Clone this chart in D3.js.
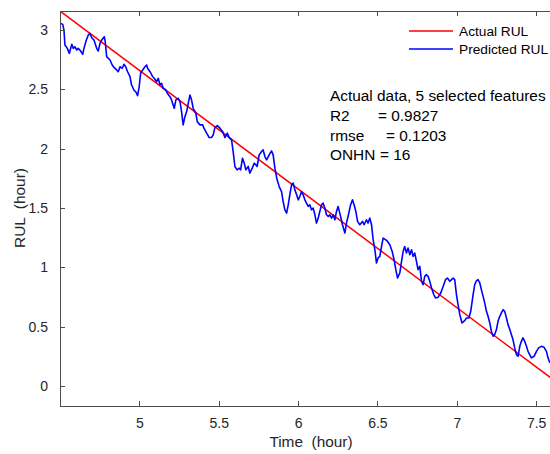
<!DOCTYPE html>
<html>
<head>
<meta charset="utf-8">
<script src="https://cdn.jsdelivr.net/npm/d3@7"></script>
<style>
  body { margin: 0; background: #fff; }
  svg { font-family: "Liberation Sans", Arial, sans-serif; }
  .axis path, .axis line { stroke: #4d4d4d; shape-rendering: crispEdges; }
  .axis text { fill: #262626; font-size: 14px; }
</style>
</head>
<body>
<script>
// Actual RUL (straight line)
var actualTime = [4.5, 7.6];
var actualRUL = [3.16, 0.06];

// Predicted RUL
var predTime = [4.506, 4.517, 4.525, 4.531, 4.546, 4.559, 4.574, 4.584, 4.594, 4.605,
4.615, 4.630, 4.643, 4.651, 4.664, 4.678, 4.689, 4.700, 4.714, 4.731,
4.741, 4.752, 4.763, 4.779, 4.785, 4.794, 4.815, 4.829, 4.842, 4.857,
4.867, 4.878, 4.892, 4.903, 4.914, 4.926, 4.941, 4.951, 4.966, 4.979,
4.989, 4.999, 5.008, 5.021, 5.035, 5.046, 5.052, 5.067, 5.084, 5.094,
5.109, 5.119, 5.130, 5.140, 5.150, 5.167, 5.176, 5.193, 5.203, 5.213,
5.220, 5.230, 5.245, 5.256, 5.266, 5.276, 5.287, 5.298, 5.308, 5.319,
5.329, 5.339, 5.356, 5.365, 5.382, 5.399, 5.407, 5.424, 5.440, 5.455,
5.465, 5.476, 5.491, 5.508, 5.525, 5.539, 5.554, 5.566, 5.581, 5.591,
5.602, 5.616, 5.629, 5.638, 5.650, 5.661, 5.671, 5.686, 5.696, 5.711,
5.724, 5.734, 5.742, 5.755, 5.770, 5.780, 5.791, 5.802, 5.818, 5.833,
5.843, 5.854, 5.868, 5.881, 5.896, 5.906, 5.917, 5.928, 5.938, 5.948,
5.959, 5.969, 5.980, 5.991, 6.001, 6.011, 6.022, 6.032, 6.043, 6.053,
6.064, 6.074, 6.085, 6.095, 6.106, 6.116, 6.127, 6.137, 6.148, 6.158,
6.169, 6.179, 6.190, 6.200, 6.211, 6.221, 6.232, 6.242, 6.252, 6.263,
6.280, 6.295, 6.305, 6.315, 6.331, 6.343, 6.353, 6.364, 6.375, 6.389,
6.406, 6.416, 6.431, 6.441, 6.452, 6.463, 6.473, 6.484, 6.494, 6.504,
6.515, 6.526, 6.536, 6.551, 6.564, 6.578, 6.593, 6.605, 6.616, 6.627,
6.641, 6.652, 6.662, 6.672, 6.683, 6.693, 6.704, 6.715, 6.725, 6.735,
6.746, 6.756, 6.767, 6.778, 6.788, 6.798, 6.809, 6.819, 6.830, 6.841,
6.855, 6.866, 6.882, 6.899, 6.914, 6.929, 6.941, 6.956, 6.967, 6.977,
6.987, 6.998, 7.008, 7.019, 7.033, 7.050, 7.061, 7.076, 7.088, 7.103,
7.113, 7.124, 7.134, 7.145, 7.155, 7.166, 7.176, 7.187, 7.197, 7.208,
7.218, 7.229, 7.239, 7.250, 7.260, 7.271, 7.281, 7.292, 7.302, 7.313,
7.323, 7.334, 7.344, 7.354, 7.365, 7.376, 7.386, 7.397, 7.407, 7.417,
7.428, 7.439, 7.449, 7.470, 7.487, 7.502, 7.516, 7.533, 7.550, 7.565,
7.575, 7.586];

var predRUL = [3.056, 3.047, 2.999, 2.873, 2.845, 2.803, 2.879, 2.845, 2.859, 2.831,
2.845, 2.823, 2.795, 2.845, 2.907, 2.957, 2.972, 2.935, 2.915, 2.845,
2.823, 2.887, 2.915, 2.943, 2.901, 2.775, 2.747, 2.705, 2.682, 2.663,
2.648, 2.690, 2.677, 2.711, 2.690, 2.648, 2.606, 2.536, 2.494, 2.475,
2.446, 2.522, 2.635, 2.663, 2.690, 2.705, 2.677, 2.648, 2.606, 2.593,
2.564, 2.593, 2.536, 2.551, 2.509, 2.494, 2.467, 2.438, 2.410, 2.368,
2.340, 2.410, 2.424, 2.396, 2.312, 2.200, 2.269, 2.312, 2.382, 2.452,
2.410, 2.340, 2.298, 2.227, 2.200, 2.200, 2.172, 2.130, 2.093, 2.093,
2.115, 2.177, 2.194, 2.172, 2.143, 2.093, 2.130, 2.093, 2.073, 1.975,
1.849, 1.821, 1.835, 1.821, 1.919, 1.877, 1.821, 1.849, 1.793, 1.835,
1.877, 1.863, 1.849, 1.947, 1.975, 1.989, 1.933, 1.905, 1.947, 1.981,
1.947, 1.835, 1.737, 1.680, 1.638, 1.554, 1.484, 1.456, 1.526, 1.610,
1.695, 1.709, 1.652, 1.610, 1.568, 1.596, 1.638, 1.610, 1.568, 1.540,
1.512, 1.526, 1.484, 1.498, 1.442, 1.372, 1.414, 1.470, 1.526, 1.540,
1.498, 1.442, 1.428, 1.442, 1.414, 1.442, 1.400, 1.470, 1.512, 1.456,
1.358, 1.288, 1.372, 1.428, 1.526, 1.568, 1.526, 1.470, 1.386, 1.358,
1.386, 1.358, 1.400, 1.372, 1.414, 1.358, 1.232, 1.147, 1.035, 1.078,
1.091, 1.175, 1.246, 1.232, 1.217, 1.189, 1.133, 1.063, 0.979, 0.909,
0.951, 1.049, 1.133, 1.175, 1.120, 1.162, 1.105, 1.147, 1.091, 1.120,
1.049, 0.979, 1.007, 0.881, 0.853, 0.923, 0.937, 0.923, 0.881, 0.825,
0.769, 0.741, 0.746, 0.783, 0.838, 0.895, 0.909, 0.881, 0.895, 0.909,
0.895, 0.769, 0.684, 0.600, 0.530, 0.550, 0.572, 0.572, 0.628, 0.769,
0.853, 0.886, 0.895, 0.867, 0.811, 0.754, 0.699, 0.628, 0.586, 0.530,
0.460, 0.418, 0.432, 0.474, 0.544, 0.586, 0.615, 0.642, 0.628, 0.572,
0.516, 0.474, 0.432, 0.390, 0.320, 0.263, 0.249, 0.333, 0.375, 0.404,
0.375, 0.333, 0.291, 0.236, 0.249, 0.291, 0.320, 0.333, 0.325, 0.291,
0.236, 0.194];

var xTicks = [5, 5.5, 6, 6.5, 7, 7.5];
var yTicks = [0, 0.5, 1, 1.5, 2, 2.5, 3];

var legendNames = ["Actual RUL", "Predicted RUL"];
var legendColors = ["#ff0000", "#0000ff"];

// fit info: left part, right part ("= value")
var infoNames = ["Actual data, 5 selected features", "R2", "rmse", "ONHN"];
var infoValues = ["", "= 0.9827", "= 0.1203", "= 16"];

// Canvas and plot box
var W = 550, H = 454;
var margin = {top: 11, left: 60, bottom: 48};
var plotRight = 552;

var x = d3.scaleLinear().domain([4.5, 7.6]).range([margin.left, plotRight]);
var y = d3.scaleLinear().domain([-0.17, 3.16]).range([H - margin.bottom, margin.top]);

var svg = d3.select("body")
    .append("svg")
        .attr("width", W)
        .attr("height", H);

svg.append("defs").append("clipPath")
    .attr("id", "plotclip")
  .append("rect")
    .attr("x", margin.left)
    .attr("y", margin.top)
    .attr("width", plotRight - margin.left)
    .attr("height", y.range()[0] - margin.top);

// Lines
var actualData = actualTime.map(function(t, i) { return [t, actualRUL[i]]; });
var predData = predTime.map(function(t, i) { return [t, predRUL[i]]; });

var line = d3.line()
    .x(function(d) { return x(d[0]); })
    .y(function(d) { return y(d[1]); });

var plot = svg.append("g").attr("clip-path", "url(#plotclip)");

plot.append("path")
    .attr("d", line(actualData))
    .style("fill", "none")
    .style("stroke", legendColors[0])
    .style("stroke-width", 1.5);

plot.append("path")
    .attr("d", line(predData))
    .style("fill", "none")
    .style("stroke", legendColors[1])
    .style("stroke-width", 1.6)
    .style("stroke-linejoin", "round");

// Axes (ticks point inward, like matlab)
svg.append("g")
    .attr("class", "axis")
    .attr("transform", "translate(0," + y.range()[0] + ")")
    .call(d3.axisBottom(x).tickValues(xTicks).tickSizeInner(-5).tickSizeOuter(0).tickPadding(12)
        .tickFormat(d3.format("")));

svg.append("g")
    .attr("class", "axis")
    .attr("transform", "translate(0," + margin.top + ")")
    .call(d3.axisTop(x).tickValues(xTicks).tickSizeInner(-5).tickSizeOuter(0).tickFormat(""));

svg.append("g")
    .attr("class", "axis")
    .attr("transform", "translate(" + margin.left + ",0)")
    .call(d3.axisLeft(y).tickValues(yTicks).tickSizeInner(-5).tickSizeOuter(0).tickPadding(12)
        .tickFormat(d3.format("")));

// Axis labels
svg.append("text")
    .attr("x", 311)
    .attr("y", 447)
    .attr("text-anchor", "middle")
    .style("white-space", "pre")
    .style("font-size", "15.4px")
    .style("fill", "#262626")
    .text("Time  (hour)");

svg.append("text")
    .attr("transform", "translate(25,208) rotate(-90)")
    .attr("text-anchor", "middle")
    .style("white-space", "pre")
    .style("font-size", "15.4px")
    .style("fill", "#262626")
    .text("RUL  (hour)");

// Legend
legendNames.forEach(function(name, i) {
    var ly = 31 + i * 18;
    svg.append("line")
        .attr("x1", 409).attr("x2", 453)
        .attr("y1", ly).attr("y2", ly)
        .style("stroke", legendColors[i])
        .style("stroke-width", 1.5);
    svg.append("text")
        .attr("x", 459)
        .attr("y", ly + 5)
        .style("font-size", "13.7px")
        .style("fill", "#000")
        .text(name);
});

// Fit info
var eqX = [0, 378, 386, 380];
infoNames.forEach(function(s, i) {
    var t = svg.append("text")
        .attr("x", 330)
        .attr("y", 101 + i * 19.8)
        .style("font-size", "15.4px")
        .style("fill", "#000");
    t.append("tspan").text(s);
    if (infoValues[i] !== "")
        t.append("tspan").attr("x", eqX[i]).text(infoValues[i]);
});
</script>
</body>
</html>
